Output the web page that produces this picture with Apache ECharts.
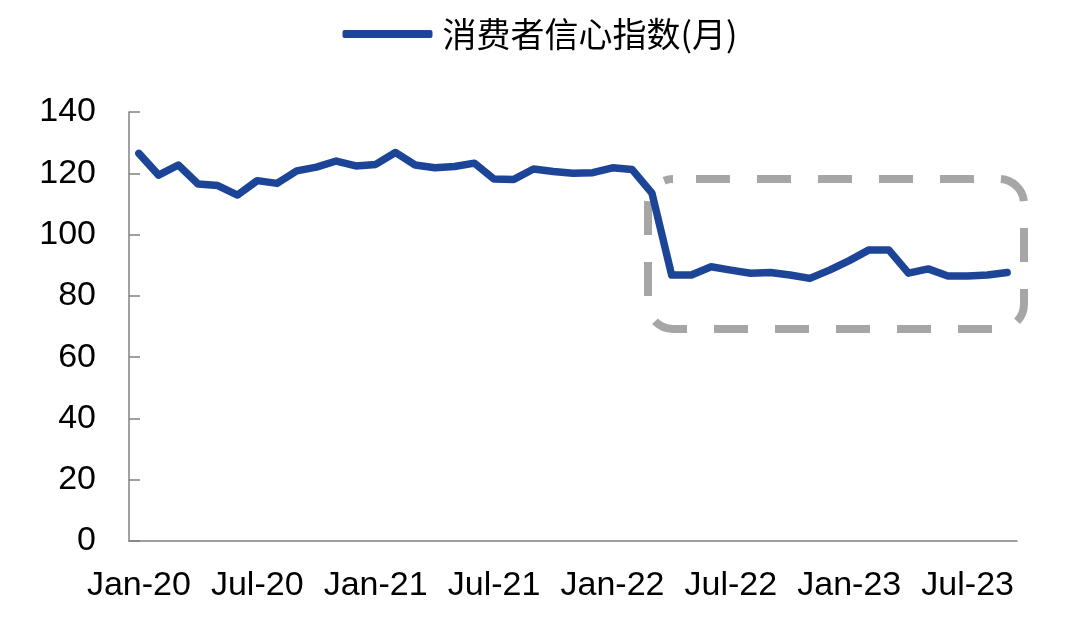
<!DOCTYPE html>
<html>
<head>
<meta charset="utf-8">
<script src="https://cdn.jsdelivr.net/npm/echarts@6/dist/echarts.min.js"></script>
<style>
html,body{margin:0;padding:0;background:#fff;}
#c{width:1080px;height:621px;}
</style>
</head>
<body>
<div id="c"></div>
<script>
const seriesName = '消费者信心指数(月)';
const categories = [
  'Jan-20','Feb-20','Mar-20','Apr-20','May-20','Jun-20','Jul-20','Aug-20','Sep-20','Oct-20','Nov-20','Dec-20',
  'Jan-21','Feb-21','Mar-21','Apr-21','May-21','Jun-21','Jul-21','Aug-21','Sep-21','Oct-21','Nov-21','Dec-21',
  'Jan-22','Feb-22','Mar-22','Apr-22','May-22','Jun-22','Jul-22','Aug-22','Sep-22','Oct-22','Nov-22','Dec-22',
  'Jan-23','Feb-23','Mar-23','Apr-23','May-23','Jun-23','Jul-23','Aug-23','Sep-23'
];
const confidence = [
  126.5, 119.4, 122.7, 116.5, 116.0, 112.9, 117.6, 116.7, 120.8, 122.0, 124.0, 122.4,
  122.9, 126.8, 122.7, 121.8, 122.2, 123.3, 118.1, 118.0, 121.4, 120.6, 120.0, 120.2,
  121.8, 121.2, 113.5, 86.8, 86.8, 89.5, 88.4, 87.4, 87.6, 86.8, 85.7, 88.4,
  91.5, 95.0, 95.0, 87.4, 88.8, 86.5, 86.5, 86.8, 87.6
];
const yTicks = { min: 0, max: 140, interval: 20 };

const chart = echarts.init(document.getElementById('c'));
const axisColor = '#808080';
const labelFont = { color: '#000', fontSize: 34, fontFamily: 'Liberation Sans' };

chart.setOption({
  animation: false,
  backgroundColor: '#fff',
  legend: {
    top: 12,
    left: 'center',
    icon: 'roundRect',
    itemWidth: 90,
    itemHeight: 8,
    textStyle: { color: '#000', fontSize: 34, fontFamily: 'Noto Sans CJK SC', padding: [0, 0, 0, 5] },
    data: [seriesName]
  },
  grid: { left: 129, right: 63, top: 112, bottom: 80, containLabel: false },
  xAxis: {
    type: 'category',
    data: categories,
    boundaryGap: true,
    axisLine: { lineStyle: { color: axisColor, width: 1.5 } },
    axisTick: { inside: true, length: 11, interval: 0, lineStyle: { color: axisColor, width: 1.5 } },
    axisLabel: Object.assign({ interval: 5, margin: 28 }, labelFont),
    splitLine: { show: false }
  },
  yAxis: {
    type: 'value',
    min: yTicks.min, max: yTicks.max, interval: yTicks.interval,
    axisLine: { show: true, lineStyle: { color: axisColor, width: 1.5 } },
    axisTick: { show: true, inside: true, length: 11, lineStyle: { color: axisColor, width: 1.5 } },
    axisLabel: Object.assign({ margin: 33 }, labelFont),
    splitLine: { show: false }
  },
  graphic: [{
    type: 'rect',
    z: 1,
    shape: { x: 648, y: 179, width: 376, height: 150, r: 25 },
    style: { fill: 'none', stroke: '#a6a6a6', lineWidth: 8, lineDash: [34, 27], lineDashOffset: 38 }
  }],
  series: [{
    name: seriesName,
    type: 'line',
    z: 5,
    data: confidence,
    showSymbol: false,
    symbol: 'none',
    lineStyle: { color: '#1d4597', width: 7.5, join: 'round', cap: 'round' },
    itemStyle: { color: '#1d4597' }
  }]
});
</script>
</body>
</html>
